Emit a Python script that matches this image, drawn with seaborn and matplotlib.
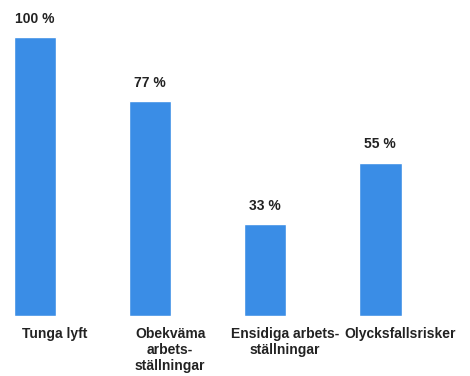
import matplotlib
matplotlib.use("Agg")
import matplotlib.pyplot as plt
import matplotlib.transforms as mtransforms
import seaborn as sns
import pandas as pd

# data
categories = ["Tunga lyft", "Obekväma\narbets-\nställningar",
              "Ensidiga arbets-\nställningar", "Olycksfallsrisker"]
values = [100, 77, 33, 55]
value_labels = ["100 %", "77 %", "33 %", "55 %"]

df = pd.DataFrame({"cat": categories, "val": values})

sns.set_style("white")
plt.rcParams['font.family'] = ['Liberation Sans', 'DejaVu Sans']

fig = plt.figure(figsize=(4.7, 3.76), dpi=100)
ax = fig.add_axes([0, 0.16, 1, 0.84])

sns.barplot(data=df, x="cat", y="val", color="#3a8de6", saturation=1,
            width=0.37, ax=ax)

ax.set_xlim(-0.304, 3.78)
ax.set_ylim(0, 113.3)

for i, v in enumerate(values):
    ax.annotate(value_labels[i], (i, v), xytext=(0, 8), textcoords="offset points",
                ha="center", va="bottom", fontsize=10, fontweight="bold",
                color="#222222")

ax.set_xlabel("")
ax.set_ylabel("")
ax.set_yticks([])
ax.tick_params(axis="x", length=0, pad=8)
for lab in ax.get_xticklabels():
    lab.set_fontsize(10)
    lab.set_fontweight("bold")
    lab.set_color("#222222")
    lab.set_linespacing(1.2)
    lab.set_transform(lab.get_transform() +
                      mtransforms.ScaledTranslation(20 / 100, 0, fig.dpi_scale_trans))
sns.despine(ax=ax, left=True, bottom=True)

fig.savefig("out.png", dpi=100)
